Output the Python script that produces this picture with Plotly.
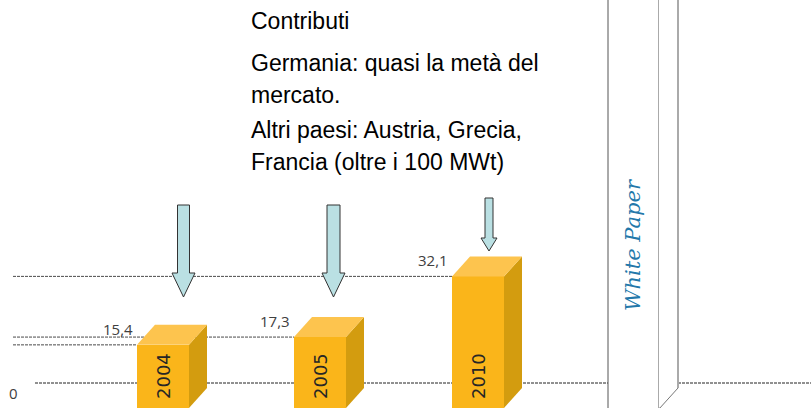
import plotly.graph_objects as go

# ---------------- data ----------------
years = ["2004", "2005", "2010"]
values = [15.4, 17.3, 32.1]
value_labels = ["15,4", "17,3", "32,1"]
zero_label = "0"
text_lines = [
    "Contributi",
    "Germania: quasi la metà del",
    "mercato.",
    "Altri paesi: Austria, Grecia,",
    "Francia (oltre i 100 MWt)",
]
panel_label = "White Paper"

# ---------------- layout constants ----------------
W, H = 811, 408
PX_PER_UNIT = 4.1                # vertical scale (pixels per data unit)
Y_MAX = H / PX_PER_UNIT
bar_centers = [163, 320, 478]    # x positions (pixel-like x axis)
bar_width = 52
DX = 18                          # 3D depth, x (px)
DY = 20 / PX_PER_UNIT            # 3D depth, y (data units)
FRONT = "#FAB51A"
TOP = "#FDC44E"
SIDE = "#D39C0F"
GRID = "#4a4a4a"

def v(py):
    """pixel row -> y-axis value"""
    return (H - py) / PX_PER_UNIT

fig = go.Figure()

# front faces
fig.add_trace(go.Bar(
    x=bar_centers, y=values, width=[bar_width] * len(values),
    marker=dict(color=FRONT, line=dict(width=0)),
    hoverinfo="skip", showlegend=False,
))

# side and top faces derived from values
for cx, val in zip(bar_centers, values):
    xl, xr = cx - bar_width / 2, cx + bar_width / 2
    fig.add_trace(go.Scatter(
        x=[xr, xr + DX, xr + DX, xr, xr], y=[0, DY, val + DY, val, 0],
        fill="toself", fillcolor=SIDE, mode="lines", line=dict(width=0),
        hoverinfo="skip", showlegend=False,
    ))
    fig.add_trace(go.Scatter(
        x=[xl, xl + DX, xr + DX, xr, xl], y=[val, val + DY, val + DY, val, val],
        fill="toself", fillcolor=TOP, mode="lines", line=dict(width=0),
        hoverinfo="skip", showlegend=False,
    ))

shapes = []
annotations = []

# dashed value lines (from left to the bar)
for cx, val in zip(bar_centers, values):
    shapes.append(dict(type="line", xref="x", yref="y", x0=13, x1=cx - bar_width / 2,
                       y0=val, y1=val, layer="below",
                       line=dict(color=GRID, width=1, dash="3px,1px")))
# floor line
FLOOR = v(383)
shapes.append(dict(type="line", xref="x", yref="y", x0=35, x1=608, y0=FLOOR, y1=FLOOR,
                   layer="below", line=dict(color="#222", width=1, dash="3px,1px")))
shapes.append(dict(type="line", xref="x", yref="y", x0=678, x1=W, y0=FLOOR, y1=FLOOR,
                   layer="below", line=dict(color="#222", width=1, dash="3px,1px")))

# value labels
for cx, val, lab in zip(bar_centers, values, value_labels):
    annotations.append(dict(x=cx - bar_width / 2 - 2, y=val + 16 / PX_PER_UNIT, xref="x", yref="y",
                            text=lab, showarrow=False, xanchor="right", yanchor="middle",
                            font=dict(family="Open Sans", size=15, color="#404040")))
annotations.append(dict(x=13, y=v(393), xref="x", yref="y", text=zero_label, showarrow=False,
                        xanchor="center", yanchor="middle",
                        font=dict(family="Open Sans", size=15, color="#404040")))

# year labels inside the bars
for cx, yr in zip(bar_centers, years):
    annotations.append(dict(x=cx, y=v(376), xref="x", yref="y", text=yr, showarrow=False,
                            textangle=-90, xanchor="center", yanchor="middle",
                            font=dict(family="DejaVu Sans", size=18, color="#262626")))

# block arrows (decoration)
arrows = [
    (183.5, 205, 273, 297, 12, 23),
    (333.5, 205, 273, 297, 13, 23),
    (489.0, 198, 238, 251, 8, 16),
]
for cx, top, hs, tip, sw, hw in arrows:
    pts = [(cx - sw / 2, top), (cx + sw / 2, top), (cx + sw / 2, hs), (cx + hw / 2, hs),
           (cx, tip), (cx - hw / 2, hs), (cx - sw / 2, hs)]
    path = "M " + " L ".join(f"{x},{v(y)}" for x, y in pts) + " Z"
    shapes.append(dict(type="path", xref="x", yref="y", path=path,
                       fillcolor="#BAE0E3", line=dict(color="#333333", width=1)))

# White Paper panel
shapes.append(dict(type="rect", xref="x", yref="y", x0=608, x1=659, y0=v(H + 5), y1=v(-5),
                   fillcolor="white", line=dict(color="#555555", width=1)))
shapes.append(dict(type="path", xref="x", yref="y",
                   path=f"M 659,{v(-5)} L 678,{v(-5)} L 678,{v(388)} L 659,{v(408)} Z",
                   fillcolor="white", line=dict(width=0)))
shapes.append(dict(type="line", xref="x", yref="y", x0=678, x1=678, y0=v(-5), y1=v(388),
                   line=dict(color="#AAAAAA", width=2)))
shapes.append(dict(type="line", xref="x", yref="y", x0=678, x1=659, y0=v(388), y1=v(409),
                   line=dict(color="#777777", width=1)))
annotations.append(dict(x=633, y=v(245), xref="x", yref="y", text=panel_label, showarrow=False,
                        textangle=-90, xanchor="center", yanchor="middle",
                        font=dict(family="DejaVu Serif", size=21, color="#2378AA", style="italic")))

# text block
line_centers = [21, 63, 95, 130, 162]
for txt, cy in zip(text_lines, line_centers):
    annotations.append(dict(x=249, y=v(cy), xref="x", yref="y", text=txt, showarrow=False,
                            xanchor="left", yanchor="middle",
                            font=dict(family="Liberation Sans", size=23, color="#000000")))

fig.update_layout(
    width=W, height=H, margin=dict(l=0, r=0, t=0, b=0),
    paper_bgcolor="white", plot_bgcolor="white", showlegend=False,
    xaxis=dict(range=[0, W], visible=False, fixedrange=True),
    yaxis=dict(range=[0, Y_MAX], visible=False, fixedrange=True),
    bargap=0, shapes=shapes, annotations=annotations,
)

fig.write_html("out.html", config={"displayModeBar": False},
               post_script="document.body.style.margin='0';document.body.style.padding='0';")
